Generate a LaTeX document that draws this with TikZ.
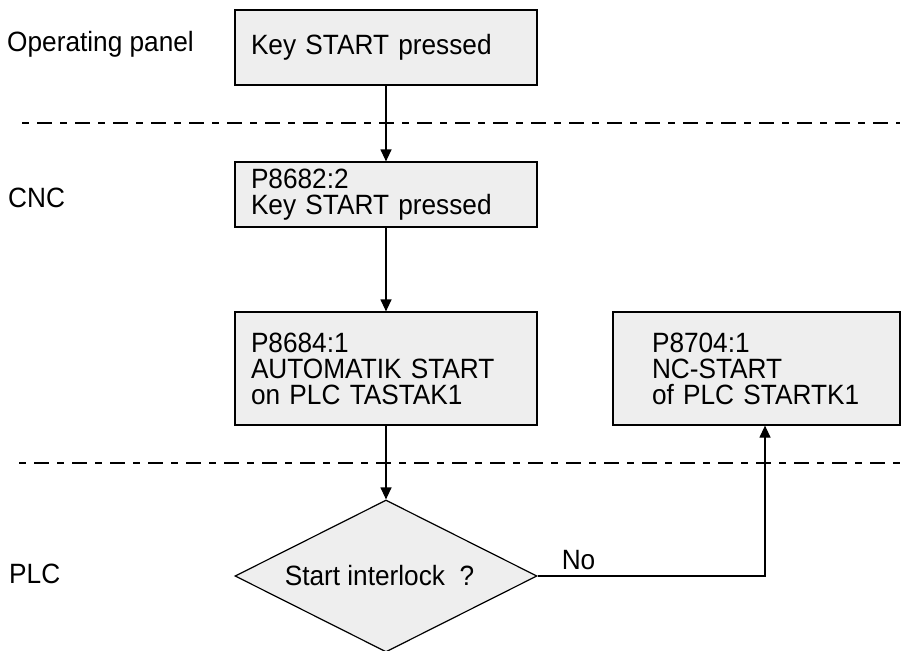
\documentclass[tikz,border=0pt]{standalone}
\usepackage{fontspec}
\setmainfont{Liberation Sans}[FakeStretch=0.94]
\usetikzlibrary{shapes.geometric,arrows.meta}
\definecolor{boxfill}{RGB}{238,238,238}
\begin{document}
\begin{tikzpicture}[x=1pt,y=-1pt,
  every node/.style={font=\fontsize{27.9}{26}\selectfont},
  box/.style={draw, line width=1.2pt, fill=boxfill, inner xsep=0pt, inner ysep=0pt, align=left},
  decision/.style={draw, line width=1.2pt, fill=boxfill, diamond, aspect=2, inner sep=0pt, minimum width=302pt, minimum height=152pt},
  flow/.style={line width=1.2pt, -{Triangle[length=12pt,width=11pt]}},
  sep/.style={line width=1.3pt, dash pattern=on 7pt off 8pt on 15pt off 8pt},
  lane/.style={anchor=base west, inner sep=0pt}
]
\useasboundingbox (0,0) rectangle (904,650);

% lane separators
\coordinate (s1a) at (22,123);
\coordinate (s1b) at (900,123);
\coordinate (s2a) at (19,463);
\coordinate (s2b) at (900,463);
\draw[sep] (s1a) -- (s1b);
\draw[sep] (s2a) -- (s2b);

% lane labels
\node[lane] (l1) at (7,52) {Operating panel};
\node[lane] (l2) at (8,207) {CNC};
\node[lane] (l3) at (9,583) {PLC};

% boxes
\node[box, minimum width=302pt, minimum height=75pt, text width=270pt] (b1) at (386,47.5) {Key START pressed};
\node[box, minimum width=302pt, minimum height=65pt, text width=270pt] (b2) at (386,194.5) {P8682:2\\Key START pressed};
\node[box, minimum width=302pt, minimum height=113pt, text width=270pt] (b3) at (386,368.5) {P8684:1\\AUTOMATIK START\\on PLC TASTAK1};
\node[box, minimum width=287pt, minimum height=113pt, text width=209pt] (b4) at (756.5,368.5) {P8704:1\\NC-START\\of PLC STARTK1};

% decision
\node[decision] (d) at (386,576) {Start interlock\ \ ?\hspace*{13pt}};

% connectors
\draw[flow] (b1.south) -- (b2.north);
\draw[flow] (b2.south) -- (b3.north);
\draw[flow] (b3.south) -- (d.north);
\draw[flow] (d.east) -| node[pos=0.09, anchor=base, yshift=7pt] (no) {No} ([xshift=8.5pt]b4.south);
\end{tikzpicture}
\end{document}
